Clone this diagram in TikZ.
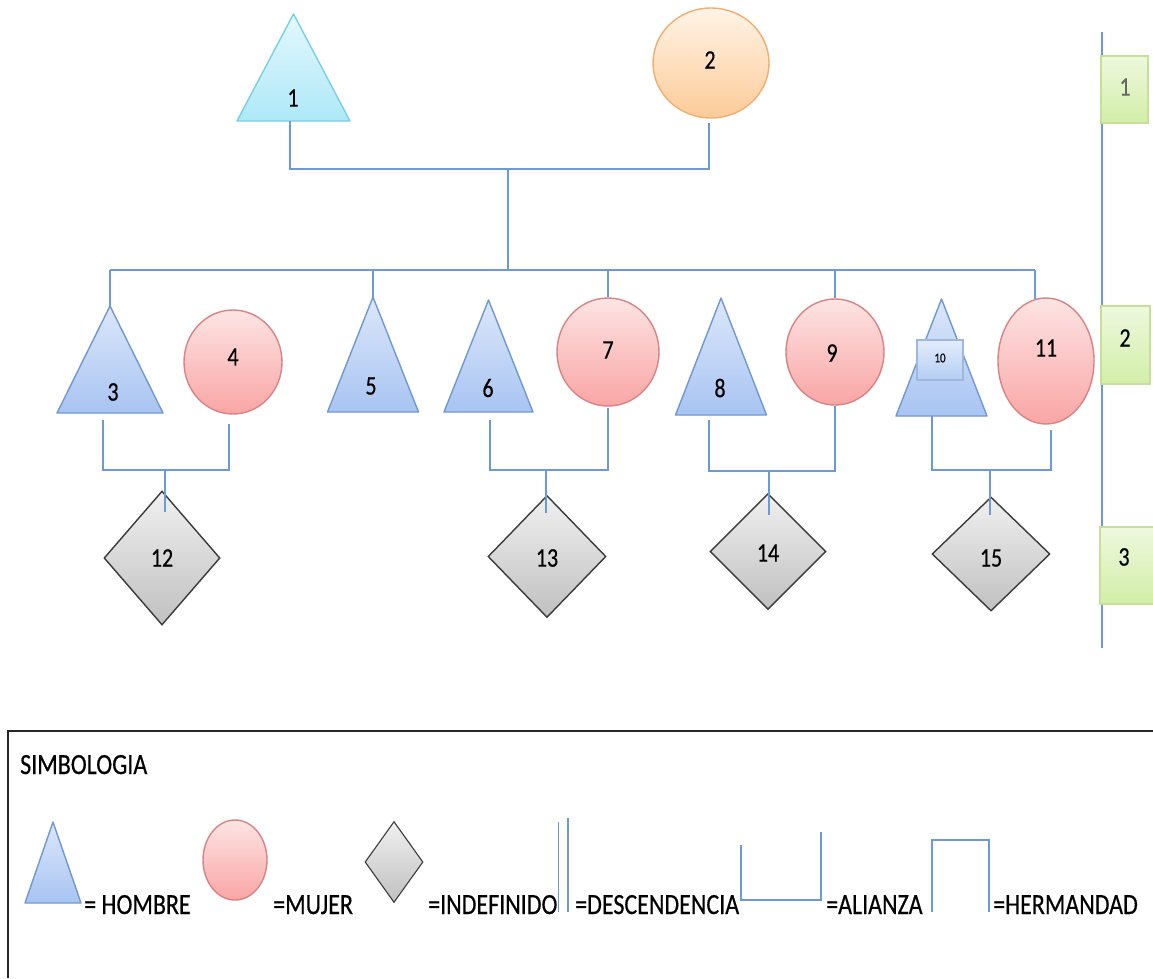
\documentclass[tikz,border=0pt]{standalone}
\usepackage{fontspec}
\setmainfont{Carlito}[FakeBold=0.5]
\usetikzlibrary{shapes.geometric}
\definecolor{ln}{HTML}{6B9BD2}
\definecolor{cyT}{HTML}{E3F8FD}\definecolor{cyB}{HTML}{AEE8F7}\definecolor{cyL}{HTML}{7ACFE3}
\definecolor{orT}{HTML}{FFF3E6}\definecolor{orB}{HTML}{FCCB98}\definecolor{orL}{HTML}{F0AE72}
\definecolor{blT}{HTML}{DCE7FA}\definecolor{blB}{HTML}{A8C4F2}\definecolor{blL}{HTML}{7198D2}
\definecolor{rdT}{HTML}{FDE4E4}\definecolor{rdB}{HTML}{FAA5A5}\definecolor{rdL}{HTML}{D88484}
\definecolor{grT}{HTML}{F0F0F0}\definecolor{grB}{HTML}{C0C0C0}\definecolor{grL}{HTML}{3A3A3A}
\definecolor{gnT}{HTML}{EEF8DE}\definecolor{gnB}{HTML}{D2EEA8}\definecolor{gnL}{HTML}{C6E09A}
\definecolor{sbT}{HTML}{E3EDFC}\definecolor{sbB}{HTML}{B4CDF3}\definecolor{sbL}{HTML}{9DB7E0}
\newcommand\vst[1]{\scalebox{1}[1.22]{#1}}
\tikzset{
  conn/.style={draw=ln, line width=1.3pt},
  lbl/.style={font=\fontsize{22}{24}\selectfont, inner sep=0pt},
  lgd/.style={font=\fontsize{24}{26}\selectfont, inner sep=0pt, anchor=base west},
  tricyan/.style={top color=cyT, bottom color=cyB, draw=cyL, line width=1.4pt, line join=round},
  triblue/.style={top color=blT, bottom color=blB, draw=blL, line width=1.4pt, line join=round},
  womanor/.style={ellipse, inner sep=0pt, top color=orT, bottom color=orB, draw=orL, line width=1.4pt},
  womanrd/.style={ellipse, inner sep=0pt, top color=rdT, bottom color=rdB, draw=rdL, line width=1.4pt},
  undef/.style={diamond, inner sep=0pt, top color=grT, bottom color=grB, draw=grL, line width=1.4pt},
  genbox/.style={rectangle, inner sep=0pt, top color=gnT, bottom color=gnB, draw=gnL, line width=1.4pt},
  smallbox/.style={rectangle, inner sep=0pt, top color=sbT, bottom color=sbB, draw=sbL, line width=1.2pt},
}
% name, apex x, apex y, half width, base y, style
\newcommand\mytri[6]{%
  \shade[#6] (#2,#3) -- (#2+#4,#5) -- (#2-#4,#5) -- cycle;
  \coordinate (#1-top) at (#2,#3);}
\begin{document}
\begin{tikzpicture}[x=1pt,y=-1pt]
\useasboundingbox (0,0) rectangle (1153,978);
\fill[white] (0,0) rectangle (1153,978);

% ---------- generation ruler ----------
\coordinate (gtop) at (1102,32);
\coordinate (gbot) at (1102,648);
\draw[conn, line width=1.1pt] (gtop) -- (gbot);
\node[genbox, minimum width=47pt, minimum height=67pt] (g1) at (1124.5,89.5) {};
\node[genbox, minimum width=49pt, minimum height=78pt] (g2) at (1125.5,345) {};
\node[genbox, minimum width=55pt, minimum height=77pt] (g3) at (1127.5,565.5) {};
\node[lbl, text=gray!80!black] (g1l) at (1125,87) {\vst{1}};
\node[lbl] (g2l) at (1125,338) {\vst{2}};
\node[lbl] (g3l) at (1124,557) {\vst{3}};

% ---------- generation 1 ----------
\mytri{t1}{293.5}{14}{56.5}{121}{tricyan}
\node[womanor, minimum width=116pt, minimum height=110pt] (n2) at (711,63) {};
\node[lbl] (l1) at (293,98) {\vst{1}};
\node[lbl] (l2) at (710,60) {\vst{2}};

% ---------- generation 2 ----------
\mytri{t3}{110}{306}{53}{413}{triblue}
\node[womanrd, minimum width=98pt, minimum height=104pt] (n4) at (233,362) {};
\mytri{t5}{373}{297}{45.5}{412}{triblue}
\mytri{t6}{488.5}{300}{44.5}{412}{triblue}
\node[womanrd, minimum width=102pt, minimum height=108pt] (n7) at (608,352) {};
\mytri{t8}{721}{298}{45.5}{415}{triblue}
\node[womanrd, minimum width=98pt, minimum height=106pt] (n9) at (835,352) {};
\mytri{t10}{941.5}{299}{45.5}{416}{triblue}
\node[smallbox, minimum width=46pt, minimum height=40pt] (b10) at (940,360) {};
\node[womanrd, minimum width=96pt, minimum height=126pt] (n11) at (1046,361) {};

\node[lbl] (l3) at (113,392) {\vst{3}};
\node[lbl] (l4) at (233,357) {\vst{4}};
\node[lbl] (l5) at (371,386) {\vst{5}};
\node[lbl] (l6) at (488,388) {\vst{6}};
\node[lbl] (l7) at (608,350) {\vst{7}};
\node[lbl] (l8) at (720,388) {\vst{8}};
\node[lbl] (l9) at (832,353) {\vst{9}};
\node[lbl, font=\fontsize{11}{12}\selectfont] (l10) at (940,358) {\vst{10}};
\node[lbl] (l11) at (1046,348) {\vst{11}};

% ---------- generation 3 ----------
\node[undef, minimum width=116pt, minimum height=134pt] (d12) at (162,558) {};
\node[undef, minimum width=118pt, minimum height=122pt] (d13) at (547,556.5) {};
\node[undef, minimum width=116pt, minimum height=116pt] (d14) at (768,551.5) {};
\node[undef, minimum width=118pt, minimum height=114pt] (d15) at (991,554) {};
\node[lbl] (l12) at (162,558) {\vst{12}};
\node[lbl] (l13) at (547,558) {\vst{13}};
\node[lbl] (l14) at (768,553) {\vst{14}};
\node[lbl] (l15) at (991,558) {\vst{15}};

% ---------- connectors ----------
\coordinate (c1) at (290,121);
\coordinate (c2) at (709,123);
\coordinate (u12) at (508,169);
\coordinate (s1) at (508,270);
\draw[conn] (c1) |- (u12) -| (c2);
\draw[conn] (u12) -- (s1);
\coordinate (sl) at (t3-top |- s1);
\coordinate (sr) at (n11.100 |- s1);
\draw[conn] (sl) -- (sr);
\draw[conn] (sl) -- (t3-top);
\draw[conn] (t5-top |- s1) -- (t5-top);
\draw[conn] (n7.north |- s1) -- (n7.north);
\draw[conn] (n9.north |- s1) -- (n9.north);
\draw[conn] (sr) -- (n11.100);

% couple 3-4
\coordinate (c3) at (103,420);  \coordinate (c4) at (229,424);
\coordinate (u34) at (165,470); \coordinate (e12) at (165,512);
\draw[conn] (c3) |- (u34) -| (c4);
\draw[conn] (u34) -- (e12);
% couple 6-7
\coordinate (c6) at (490,420);  \coordinate (c7) at (608,408);
\coordinate (u67) at (546,470); \coordinate (e13) at (546,513);
\draw[conn] (c6) |- (u67) -| (c7);
\draw[conn] (u67) -- (e13);
% couple 8-9
\coordinate (c8) at (709,420);  \coordinate (c9) at (835,406);
\coordinate (u89) at (769,471); \coordinate (e14) at (769,515);
\draw[conn] (c8) |- (u89) -| (c9);
\draw[conn] (u89) -- (e14);
% couple 10-11
\coordinate (c10) at (932,416);  \coordinate (c11) at (1051,430);
\coordinate (u1011) at (990,470); \coordinate (e15) at (990,515);
\draw[conn] (c10) |- (u1011) -| (c11);
\draw[conn] (u1011) -- (e15);

% ---------- legend ----------
\coordinate (fa) at (8,978);
\coordinate (fb) at (8,731);
\coordinate (fc) at (1153,731);
\draw[black!85, line width=1.6pt] (fa) -- (fb) -- (fc);
\node[lgd] (sim) at (20,774) {\vst{SIMBOLOGIA}};

\mytri{lt}{53}{822}{28}{903}{triblue}
\node[lgd] (lh) at (84,914) {\vst{= HOMBRE}};
\node[womanrd, minimum width=64pt, minimum height=80pt] (lm) at (235,860) {};
\node[lgd] (lmt) at (273,914) {\vst{=MUJER}};
\node[undef, minimum width=58pt, minimum height=81pt, line width=1.1pt] (ld) at (394,862) {};
\node[lgd] (ldt) at (428,914) {\vst{=INDEFINIDO}};
\coordinate (da1) at (558,822); \coordinate (da2) at (558,912);
\coordinate (db1) at (568,818); \coordinate (db2) at (568,912);
\draw[conn, line width=0.8pt] (da1) -- (da2);
\draw[conn, line width=1.1pt] (db1) -- (db2);
\node[lgd] (ldes) at (575,914) {\vst{=DESCENDENCIA}};
\coordinate (al1) at (741,845); \coordinate (al2) at (821,832);
\draw[conn] (al1) |- (781,900) -| (al2);
\node[lgd] (lal) at (826,914) {\vst{=ALIANZA}};
\coordinate (he1) at (932,912); \coordinate (he2) at (989,912);
\draw[conn] (he1) |- (960,840) -| (he2);
\node[lgd] (lhe) at (993,914) {\vst{=HERMANDAD}};
\end{tikzpicture}
\end{document}
